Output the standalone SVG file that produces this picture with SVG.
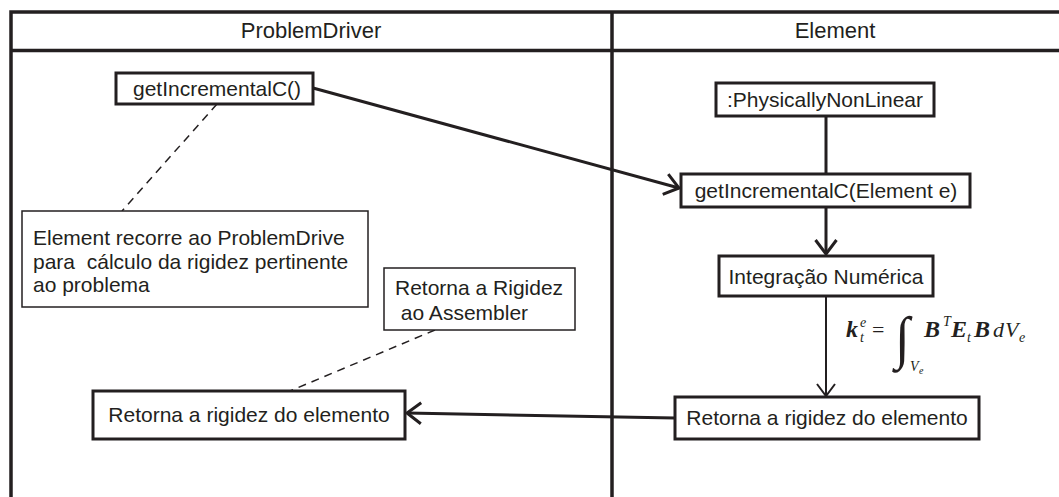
<svg xmlns="http://www.w3.org/2000/svg" width="1059" height="497" viewBox="0 0 1059 497">
  <style>
    .frame { fill: none; stroke: #231f20; stroke-width: 3.5; }
    .box { fill: #ffffff; stroke: #231f20; stroke-width: 3; }
    .note { fill: #ffffff; stroke: #231f20; stroke-width: 1.5; }
    .lbl { font-family: "Liberation Sans", Arial, sans-serif; font-size: 21px; fill: #231f20; }
    .mid { text-anchor: middle; }
    .head { font-family: "Liberation Sans", Arial, sans-serif; font-size: 22px; fill: #231f20; text-anchor: middle; }
    .link { fill: none; stroke: #231f20; stroke-width: 3; }
    .thin { fill: none; stroke: #231f20; stroke-width: 2; }
    .dash { fill: none; stroke: #231f20; stroke-width: 1.5; stroke-dasharray: 8 6; }
    .m { font-family: "Liberation Serif", "Times New Roman", serif; fill: #231f20; }
    .mb { font-weight: bold; font-style: italic; font-size: 24px; }
    .mi { font-style: italic; }
  </style>
  <defs>
    <marker id="open" viewBox="0 0 17 24" refX="15" refY="12" markerWidth="17" markerHeight="24" markerUnits="userSpaceOnUse" orient="auto" overflow="visible">
      <path d="M1,1.5 L15,12 L1,22.5" fill="none" stroke="#231f20" stroke-width="3"/>
    </marker>
    <marker id="open-thin" viewBox="0 0 15 20" refX="13" refY="10" markerWidth="15" markerHeight="20" markerUnits="userSpaceOnUse" orient="auto" overflow="visible">
      <path d="M1,1 L13,10 L1,19" fill="none" stroke="#231f20" stroke-width="2"/>
    </marker>
  </defs>

  <rect width="1059" height="497" fill="#ffffff"/>

  <!-- swimlane frame -->
  <g id="lanes">
    <path class="frame" d="M11,497 V12 H1059 M11,50.5 H1059 M612,12 V497"/>
    <text class="head" x="311" y="38">ProblemDriver</text>
    <text class="head" x="835" y="38">Element</text>
  </g>

  <!-- connectors -->
  <g id="connectors">
    <line class="link" x1="313" y1="88" x2="679" y2="188" marker-end="url(#open)"/>
    <line class="link" x1="826" y1="116" x2="826" y2="174"/>
    <line class="link" x1="826" y1="207" x2="826" y2="254" marker-end="url(#open)"/>
    <line class="thin" x1="826" y1="296" x2="826" y2="396" marker-end="url(#open-thin)"/>
    <line class="link" x1="675" y1="418" x2="407" y2="413" marker-end="url(#open)"/>
    <line class="dash" x1="217" y1="104" x2="122" y2="211"/>
    <line class="dash" x1="435" y1="330" x2="290" y2="391"/>
  </g>

  <g id="getIncrementalC">
    <rect class="box" x="116" y="73" width="197" height="31"/>
    <text class="lbl mid" x="217" y="96">getIncrementalC()</text>
  </g>

  <g id="physicallyNonLinear">
    <rect class="box" x="716" y="83" width="218" height="33"/>
    <text class="lbl mid" x="825" y="107">:PhysicallyNonLinear</text>
  </g>

  <g id="getIncrementalCElement">
    <rect class="box" x="681" y="174" width="289" height="33"/>
    <text class="lbl mid" x="826" y="198">getIncrementalC(Element e)</text>
  </g>

  <g id="integracao">
    <rect class="box" x="719" y="256" width="214" height="40"/>
    <text class="lbl mid" x="826" y="283.5">Integração Numérica</text>
  </g>

  <g id="retornaElement">
    <rect class="box" x="675" y="397" width="304" height="42"/>
    <text class="lbl mid" x="827" y="425">Retorna a rigidez do elemento</text>
  </g>

  <g id="retornaDriver">
    <rect class="box" x="93" y="391" width="312" height="48"/>
    <text class="lbl mid" x="249" y="422">Retorna a rigidez do elemento</text>
  </g>

  <g id="noteRecorre">
    <rect class="note" x="22" y="211" width="346" height="96"/>
    <text class="lbl" x="33" y="245" xml:space="preserve">Element recorre ao ProblemDrive</text>
    <text class="lbl" x="33" y="268.5" xml:space="preserve">para  cálculo da rigidez pertinente</text>
    <text class="lbl" x="33" y="292" xml:space="preserve">ao problema</text>
  </g>

  <g id="noteAssembler">
    <rect class="note" x="384" y="268" width="191" height="62"/>
    <text class="lbl" x="395" y="295" xml:space="preserve">Retorna a Rigidez</text>
    <text class="lbl" x="395" y="320" xml:space="preserve"> ao Assembler</text>
  </g>

  <!-- stiffness integral -->
  <g id="formula">
    <text class="m mb" x="846" y="337">k</text>
    <text class="m mi" x="860" y="327" font-size="14">e</text>
    <text class="m mi" x="860" y="342" font-size="14">t</text>
    <text class="m" x="872" y="337" font-size="22">=</text>
    <text class="m" x="0" y="0" font-size="40" transform="translate(895,357) scale(1.35,1.45)">∫</text>
    <text class="m mi" x="910" y="371" font-size="14">V</text>
    <text class="m mi" x="919" y="374" font-size="10">e</text>
    <text class="m mb" x="924" y="337">B</text>
    <text class="m mi" x="943" y="326" font-size="14">T</text>
    <text class="m mb" x="951" y="337">E</text>
    <text class="m mi" x="967" y="342" font-size="14">t</text>
    <text class="m mb" x="974" y="337">B</text>
    <text class="m mi" x="993" y="337" font-size="22">d</text>
    <text class="m mi" x="1005" y="337" font-size="22">V</text>
    <text class="m mi" x="1019" y="342" font-size="14">e</text>
  </g>
</svg>
